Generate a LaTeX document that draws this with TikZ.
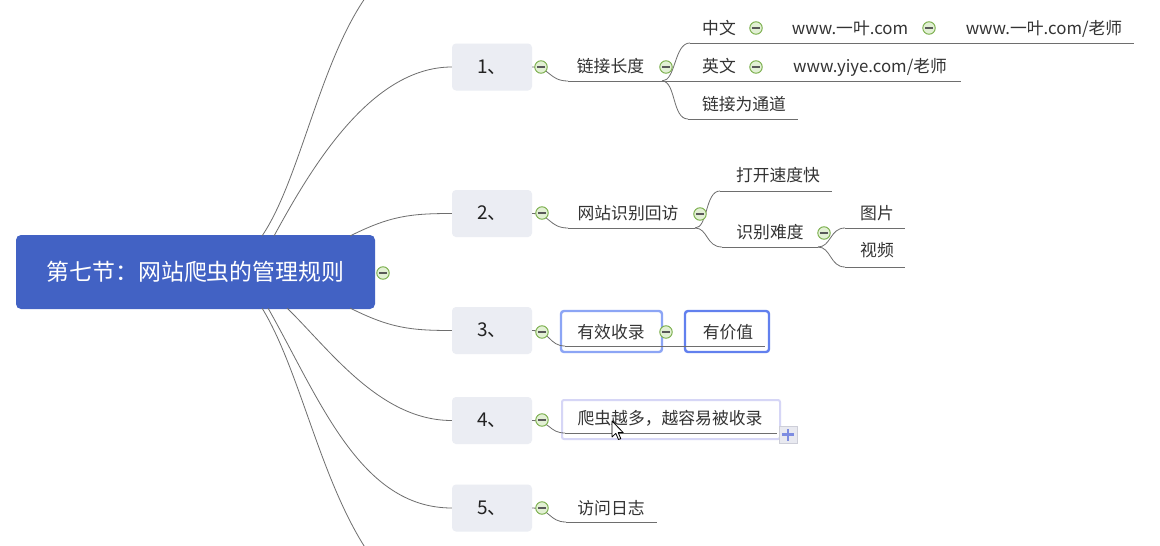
\documentclass[tikz,border=0pt]{standalone}
\usepackage{fontspec}
\setmainfont{Noto Sans CJK SC}
\definecolor{rootc}{RGB}{66,98,196}
\definecolor{numfill}{RGB}{235,237,243}
\definecolor{numtxt}{RGB}{34,34,34}
\definecolor{txtc}{RGB}{51,51,51}
\definecolor{linec}{RGB}{110,110,110}
\definecolor{mfill}{RGB}{226,240,212}
\definecolor{mdraw}{RGB}{118,172,70}
\definecolor{selA}{RGB}{140,165,245}
\definecolor{selB}{RGB}{98,128,238}
\definecolor{selC}{RGB}{214,214,246}
\definecolor{plusfill}{RGB}{232,233,240}
\definecolor{plusdraw}{RGB}{205,206,216}
\definecolor{pluscol}{RGB}{125,140,225}
\begin{document}
\begin{tikzpicture}[x=1pt,y=-1pt,
  conn/.style={draw=linec, line width=0.8pt},
  uline/.style={draw=linec, line width=0.9pt},
  lbl/.style={inner sep=0pt, text=txtc, font=\fontsize{16.8}{20}\selectfont, text height=14.8pt, text depth=2pt},
  numbox/.style={rounded corners=4pt, fill=numfill, minimum width=80pt, minimum height=47pt, inner sep=0pt, text=numtxt, font=\fontsize{19}{22}\selectfont},
  minusicon/.style={circle, draw=mdraw, fill=mfill, line width=0.9pt, minimum size=12.5pt, inner sep=0pt,
    path picture={\draw[line width=1.2pt, black!65] ([xshift=-3.6pt]path picture bounding box.center) -- ([xshift=3.6pt]path picture bounding box.center);}},
  selbox/.style={rounded corners=3pt, line width=2.4pt, fill=white, inner sep=0pt}
]
\useasboundingbox (0,0) rectangle (1160,546);
\fill[white] (0,0) rectangle (1160,546);
\clip (0,0) rectangle (1160,546);

% root
\node[rounded corners=5pt, fill=rootc, minimum width=359pt, minimum height=74pt, inner sep=0pt,
      text=white, font=\fontsize{22.9}{26}\selectfont] (root) at (195.5,272) {第七节：网站爬虫的管理规则};

% number boxes
\node[numbox] (b1) at (492,67) {1、};
\node[numbox] (b2) at (492,213.5) {2、};
\node[numbox] (b3) at (492,330.5) {3、};
\node[numbox] (b4) at (492,420.5) {4、};
\node[numbox] (b5) at (492,508) {5、};

% root connector points
\coordinate (r0) at (262,236);
\coordinate (r1) at (274,236);
\coordinate (r2) at (350,236);
\coordinate (r3) at (350,308);
\coordinate (r4) at (287,308);
\coordinate (r5) at (268,308);
\coordinate (r6) at (262,308);
\coordinate (topend) at (368,-6);
\coordinate (botend) at (368,552);

\begin{scope}[on background layer/.style={}]
\path[conn] (r0) .. controls (300,180) and (320,60) .. (topend);
\path[conn] (r1) .. controls (310,170) and (370,67) .. (b1.west);
\path[conn] (r2) .. controls (390,216) and (410,213.5) .. (b2.west);
\path[conn] (r3) .. controls (390,328) and (410,330.5) .. (b3.west);
\path[conn] (r4) .. controls (330,350) and (380,420.5) .. (b4.west);
\path[conn] (r5) .. controls (320,400) and (360,508) .. (b5.west);
\path[conn] (r6) .. controls (300,370) and (320,480) .. (botend);
\end{scope}

\node[minusicon] (m0) at (383,273) {};

% ---------- branch 1
\coordinate (u1s) at (568,81);
\coordinate (u1e) at (662,81);
\coordinate (u11s) at (690,43);
\coordinate (u11e) at (1134,43);
\coordinate (u12e) at (961,81);
\coordinate (u13s) at (688,119);
\coordinate (u13e) at (798,119);
\path[conn] (b1.east) .. controls (550,67) and (549,81) .. (u1s);
\path[uline] (u1s) -- (u1e);
\path[conn] (u1e) .. controls (676,81) and (674,43) .. (u11s);
\path[uline] (u11s) -- (u11e);
\path[uline] (u1e) -- (u12e);
\path[conn] (u1e) .. controls (676,81) and (672,119) .. (u13s);
\path[uline] (u13s) -- (u13e);

\node[lbl] (t1) at (610.5,66) {链接长度};
\node[lbl] (t11) at (719,28) {中文};
\node[lbl] (t111) at (850,28) {www.一叶.com};
\node[lbl] (t1111) at (1044,28) {www.一叶.com/老师};
\node[lbl] (t12) at (719,66) {英文};
\node[lbl] (t121) at (870,66) {www.yiye.com/老师};
\node[lbl] (t13) at (744,104) {链接为通道};
\node[minusicon] (m1) at (541,67) {};
\node[minusicon] (m11) at (666,67) {};
\node[minusicon] (m111) at (756,28) {};
\node[minusicon] (m1111) at (929,28) {};
\node[minusicon] (m12) at (756,67) {};

% ---------- branch 2
\coordinate (u2s) at (568,228);
\coordinate (u2e) at (695,228);
\coordinate (u21s) at (720,191);
\coordinate (u21e) at (832,191);
\coordinate (u22s) at (722,247);
\coordinate (u22e) at (818,247);
\coordinate (u221s) at (845,228);
\coordinate (u221e) at (905,228);
\coordinate (u222s) at (845,267);
\coordinate (u222e) at (905,267);
\path[conn] (b2.east) .. controls (550,213.5) and (549,228) .. (u2s);
\path[uline] (u2s) -- (u2e);
\path[conn] (u2e) .. controls (708,228) and (705,191) .. (u21s);
\path[uline] (u21s) -- (u21e);
\path[conn] (u2e) .. controls (708,228) and (706,247) .. (u22s);
\path[uline] (u22s) -- (u22e);
\path[conn] (u22e) .. controls (831,247) and (830,228) .. (u221s);
\path[uline] (u221s) -- (u221e);
\path[conn] (u22e) .. controls (831,247) and (830,267) .. (u222s);
\path[uline] (u222s) -- (u222e);

\node[lbl] (t2) at (628,213) {网站识别回访};
\node[lbl] (t21) at (778,175) {打开速度快};
\node[lbl] (t22) at (770,232) {识别难度};
\node[lbl] (t221) at (877,213) {图片};
\node[lbl] (t222) at (877,250) {视频};
\node[minusicon] (m2) at (542,213) {};
\node[minusicon] (m21) at (700,214) {};
\node[minusicon] (m22) at (824,233) {};

% ---------- branch 3
\node[selbox, draw=selA, minimum width=101pt, minimum height=41pt] (bx31) at (611.5,331.5) {};
\node[selbox, draw=selB, minimum width=84pt, minimum height=41pt] (bx32) at (727,331.5) {};
\coordinate (u3s) at (565,346);
\coordinate (u3e) at (765,346);
\path[conn] (b3.east) .. controls (550,330.5) and (549,346) .. (u3s);
\path[uline] (u3s) -- (u3e);
\node[lbl] (t31) at (611,332) {有效收录};
\node[lbl] (t32) at (728,332) {有价值};
\node[minusicon] (m3) at (542,332) {};
\node[minusicon] (m31) at (666,332) {};

% ---------- branch 4
\node[rounded corners=2pt, draw=selC, line width=2pt, fill=white, minimum width=218pt, minimum height=39pt, inner sep=0pt] (bx41) at (671,419.5) {};
\coordinate (u4s) at (565,433);
\coordinate (u4e) at (777,433);
\path[conn] (b4.east) .. controls (550,420.5) and (549,433) .. (u4s);
\path[uline] (u4s) -- (u4e);
\node[lbl] (t41) at (670,418) {爬虫越多，越容易被收录};
\node[minusicon] (m4) at (542,420) {};
\node[draw=plusdraw, fill=plusfill, line width=0.8pt, minimum width=18pt, minimum height=17pt, inner sep=0pt,
  path picture={\draw[line width=2.2pt, pluscol] ([xshift=-6pt]path picture bounding box.center) -- ([xshift=6pt]path picture bounding box.center);
                \draw[line width=2.2pt, pluscol] ([yshift=-6pt]path picture bounding box.center) -- ([yshift=6pt]path picture bounding box.center);}] (plus4) at (788,434.5) {};
% mouse cursor
\coordinate (cur) at (612,421);
\draw[fill=white, draw=black, line width=0.8pt, line join=round, shift={(cur)}]
  (0,0) -- (0,16) -- (3.8,12.4) -- (6.5,18.5) -- (8.8,17.6) -- (6.2,11.6) -- (11.2,11.6) -- cycle;

% ---------- branch 5
\coordinate (u5s) at (566,522);
\coordinate (u5e) at (657,522);
\path[conn] (b5.east) .. controls (550,508) and (549,522) .. (u5s);
\path[uline] (u5s) -- (u5e);
\node[lbl] (t5) at (611,508) {访问日志};
\node[minusicon] (m5) at (542,508) {};
\end{tikzpicture}
\end{document}
